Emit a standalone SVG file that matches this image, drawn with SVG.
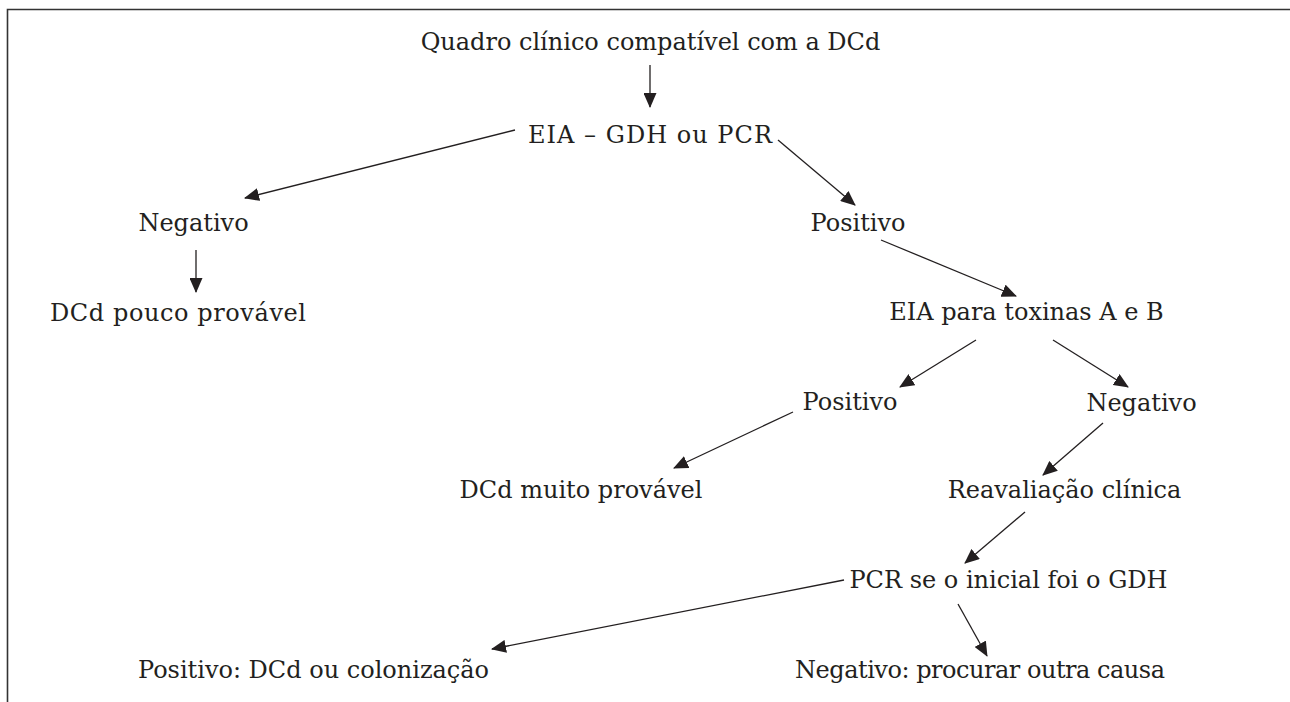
<svg xmlns="http://www.w3.org/2000/svg" width="1290" height="702" viewBox="0 0 1290 702">
<defs>
<style>
text{font-family:"DejaVu Serif","Liberation Serif",serif;font-size:24px;fill:#231f20;text-anchor:middle}
.c line{stroke:#231f20;stroke-width:1.3;marker-end:url(#ah)}
</style>
<marker id="ah" markerUnits="userSpaceOnUse" markerWidth="15" markerHeight="13" refX="14" refY="6.5" orient="auto" viewBox="0 0 15 13">
<path d="M0,0 L15,6.5 L0,13 z" fill="#231f20"/>
</marker>
</defs>
<rect width="1290" height="702" fill="#fff"/>
<path d="M7.5,702 V9.5 H1290" fill="none" stroke="#333" stroke-width="1.6"/>
<g class="c">
<line x1="650" y1="65" x2="650" y2="107"/>
<line x1="515" y1="130" x2="245" y2="198"/>
<line x1="778" y1="140" x2="855" y2="205"/>
<line x1="196" y1="250" x2="196" y2="292"/>
<line x1="881" y1="240" x2="1016" y2="296"/>
<line x1="976" y1="340" x2="900" y2="387"/>
<line x1="1053" y1="340" x2="1128" y2="387"/>
<line x1="793" y1="412" x2="674" y2="468"/>
<line x1="1103" y1="423" x2="1043" y2="475"/>
<line x1="1025" y1="512" x2="965" y2="563"/>
<line x1="844" y1="580" x2="492" y2="649"/>
<line x1="958" y1="604" x2="987" y2="656"/>
</g>
<g id="n1"><text x="650.5" y="50">Quadro clínico compatível com a DCd</text></g>
<g id="n2"><text x="650" y="143" textLength="244" lengthAdjust="spacing">EIA – GDH ou PCR</text></g>
<g id="n3"><text x="193.5" y="231">Negativo</text></g>
<g id="n4"><text x="858" y="231">Positivo</text></g>
<g id="n5"><text x="178" y="321" textLength="256" lengthAdjust="spacing">DCd pouco provável</text></g>
<g id="n6"><text x="1026.5" y="320">EIA para toxinas A e B</text></g>
<g id="n7"><text x="850" y="410">Positivo</text></g>
<g id="n8"><text x="1141.5" y="411">Negativo</text></g>
<g id="n9"><text x="581" y="498">DCd muito provável</text></g>
<g id="n10"><text x="1064.5" y="498">Reavaliação clínica</text></g>
<g id="n11"><text x="1008.5" y="588">PCR se o inicial foi o GDH</text></g>
<g id="n12"><text x="313.5" y="678">Positivo: DCd ou colonização</text></g>
<g id="n13"><text x="980" y="678" textLength="370" lengthAdjust="spacing">Negativo: procurar outra causa</text></g>
</svg>
